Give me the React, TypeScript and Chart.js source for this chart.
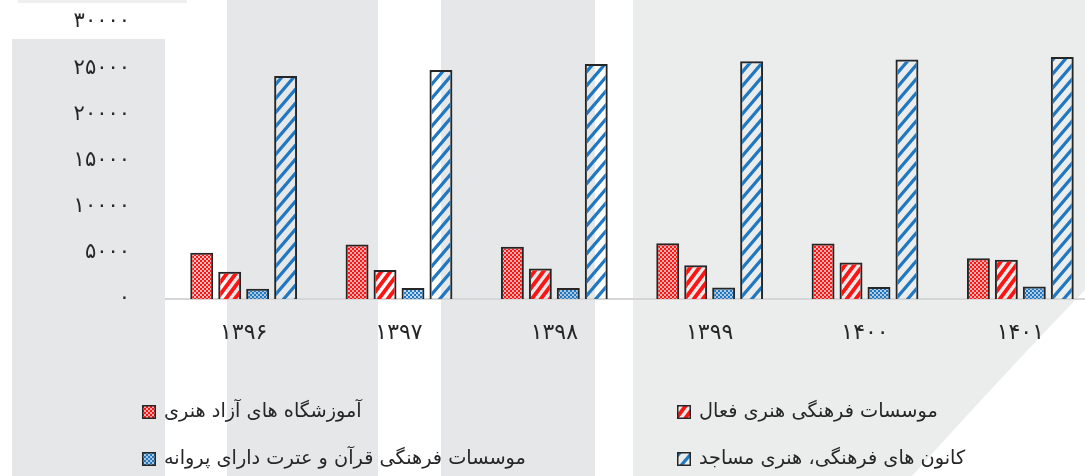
import React, { useEffect, useRef } from "react";
import { Chart, registerables } from "chart.js";

Chart.register(...registerables);

const categories = ["۱۳۹۶", "۱۳۹۷", "۱۳۹۸", "۱۳۹۹", "۱۴۰۰", "۱۴۰۱"];
const yTickLabels = ["۰", "۵۰۰۰", "۱۰۰۰۰", "۱۵۰۰۰", "۲۰۰۰۰", "۲۵۰۰۰", "۳۰۰۰۰"];

const seriesNames = [
  "آموزشگاه های آزاد هنری",
  "موسسات فرهنگی هنری فعال",
  "موسسات فرهنگی قرآن و عترت دارای پروانه",
  "کانون های فرهنگی، هنری مساجد",
];

const freeSchools = [5000, 5900, 5650, 6050, 6000, 4400];
const activeInstitutes = [2950, 3150, 3300, 3650, 3950, 4250];
const quranInstitutes = [1100, 1200, 1200, 1250, 1300, 1350];
const mosqueCenters = [24150, 24800, 25450, 25750, 25950, 26200];

const RED = "#ff1414";
const BLUE = "#1f78c1";
const FONT = "'DejaVu Sans', sans-serif";

function checker(color: string): CanvasPattern {
  const c = document.createElement("canvas");
  c.width = 4;
  c.height = 4;
  const g = c.getContext("2d")!;
  g.fillStyle = color;
  g.fillRect(0, 0, 2, 2);
  g.fillRect(2, 2, 2, 2);
  g.globalAlpha = 0.28;
  g.fillRect(2, 0, 2, 2);
  g.fillRect(0, 2, 2, 2);
  return g.createPattern(c, "repeat")!;
}

function stripes(color: string, w: number, h: number, lw: number): CanvasPattern {
  const c = document.createElement("canvas");
  c.width = w;
  c.height = h;
  const g = c.getContext("2d")!;
  g.strokeStyle = color;
  g.lineWidth = lw;
  g.beginPath();
  for (let k = -1; k <= 1; k++) {
    const x0 = -2;
    const x1 = w + 2;
    g.moveTo(x0, h - (h / w) * x0 + k * h);
    g.lineTo(x1, h - (h / w) * x1 + k * h);
  }
  g.stroke();
  return g.createPattern(c, "repeat")!;
}

const legendPlugin = {
  id: "gridLegend",
  afterDraw(chart: any) {
    const ctx = chart.ctx as CanvasRenderingContext2D;
    const cols = [142, 677];
    const rows = [405, 452];
    chart.data.datasets.forEach((ds: any, i: number) => {
      const x = cols[i % 2];
      const y = rows[Math.floor(i / 2)];
      ctx.save();
      ctx.fillStyle = ds.backgroundColor;
      ctx.fillRect(x, y, 14, 14);
      ctx.strokeStyle = "#262626";
      ctx.lineWidth = 1.5;
      ctx.strokeRect(x + 0.75, y + 0.75, 12.5, 12.5);
      ctx.fillStyle = "#262626";
      ctx.font = `19.3px ${FONT}`;
      ctx.textBaseline = "middle";
      ctx.direction = "rtl";
      ctx.textAlign = "left";
      ctx.fillText(ds.label, x + 22, y + 7);
      ctx.restore();
    });
  },
};

export default function App() {
  const ref = useRef<HTMLCanvasElement | null>(null);

  useEffect(() => {
    if (!ref.current) return;
    const patterns = [
      checker(RED),
      stripes(RED, 9, 12, 3.8),
      checker(BLUE),
      stripes(BLUE, 12, 14, 3.2),
    ];
    const values = [freeSchools, activeInstitutes, quranInstitutes, mosqueCenters];
    const chart = new Chart(ref.current, {
      type: "bar",
      data: {
        labels: categories,
        datasets: values.map((v, i) => ({
          label: seriesNames[i],
          data: v,
          backgroundColor: patterns[i] as any,
          borderColor: "#262626",
          borderWidth: 2,
          barPercentage: 0.82,
          categoryPercentage: 0.72,
        })),
      },
      options: {
        animation: false,
        responsive: false,
        devicePixelRatio: 1,
        layout: { padding: { top: 22, left: 0, right: 0, bottom: 0 } },
        plugins: {
          legend: { display: false },
          tooltip: { enabled: false },
        },
        scales: {
          x: {
            grid: { display: false, drawTicks: false },
            border: { display: true, color: "#d6d6d6", width: 2 },
            ticks: {
              color: "#262626",
              font: { family: FONT, size: 22 },
              padding: 21,
            },
            afterFit: (s: any) => {
              s.height = 177;
            },
          },
          y: {
            min: 0,
            max: 30000,
            grid: { display: false, drawTicks: true, tickLength: 36 },
            border: { display: false },
            ticks: {
              stepSize: 5000,
              color: "#262626",
              font: { family: FONT, size: 21 },
              padding: 0,
              callback: (_v: any, idx: number) => yTickLabels[idx],
            },
            afterFit: (s: any) => {
              s.width = 166;
            },
          },
        },
      },
      plugins: [legendPlugin],
    });
    return () => chart.destroy();
  }, []);

  return (
    <div
      style={{
        position: "fixed",
        left: 0,
        top: 0,
        width: 1085,
        height: 476,
        overflow: "hidden",
        background: "#ffffff",
      }}
    >
      <svg
        width={1085}
        height={476}
        style={{ position: "absolute", left: 0, top: 0 }}
      >
        <rect x={18} y={0} width={169} height={3} fill="#efefef" />
        <rect x={12} y={39} width={153} height={437} fill="#e6e7e8" />
        <rect x={227} y={0} width={151} height={476} fill="#e6e7e8" />
        <rect x={441} y={0} width={154} height={476} fill="#e6e7e8" />
        <path d="M633,0 L1085,0 L1085,290 Q1000,378 912,476 L633,476 Z" fill="#ebecec" />
      </svg>
      <canvas
        ref={ref}
        width={1098}
        height={476}
        style={{ position: "absolute", left: 0, top: 0 }}
      />
    </div>
  );
}
